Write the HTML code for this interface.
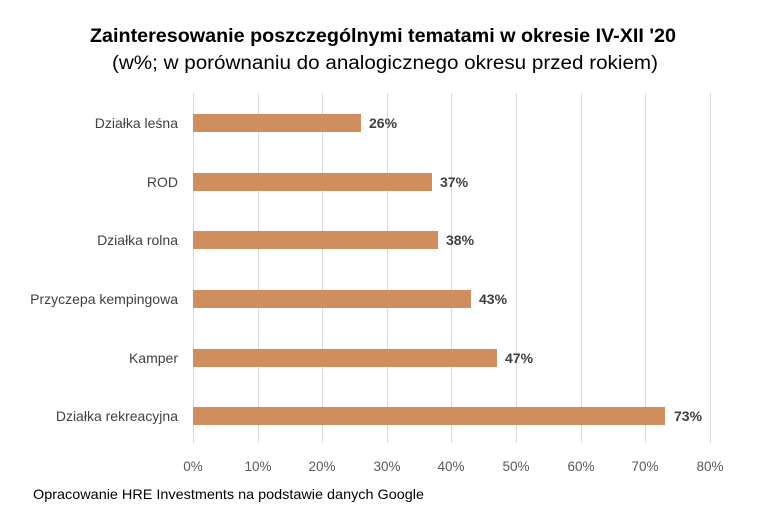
<!DOCTYPE html>
<html><head><meta charset="utf-8"><style>
body{margin:0;background:#fff;}
svg{display:block;font-family:"Liberation Sans",sans-serif;}
</style></head><body>
<svg width="770" height="509" viewBox="0 0 770 509">
<rect width="770" height="509" fill="#fff"/>
<text x="383" y="42" text-anchor="middle" font-size="19.5" font-weight="bold" fill="#000" textLength="586" lengthAdjust="spacingAndGlyphs">Zainteresowanie poszczególnymi tematami w okresie IV-XII '20</text>
<text x="385" y="69" text-anchor="middle" font-size="19" fill="#000" textLength="546" lengthAdjust="spacingAndGlyphs">(w%; w porównaniu do analogicznego okresu przed rokiem)</text>
<g stroke="#d9d9d9" stroke-width="1">
<line x1="193.5" y1="93" x2="193.5" y2="443"/>
<line x1="258.5" y1="93" x2="258.5" y2="443"/>
<line x1="322.5" y1="93" x2="322.5" y2="443"/>
<line x1="387.5" y1="93" x2="387.5" y2="443"/>
<line x1="451.5" y1="93" x2="451.5" y2="443"/>
<line x1="516.5" y1="93" x2="516.5" y2="443"/>
<line x1="581.5" y1="93" x2="581.5" y2="443"/>
<line x1="645.5" y1="93" x2="645.5" y2="443"/>
<line x1="710.5" y1="93" x2="710.5" y2="443"/>
</g>
<g fill="#D08E5F">
<rect x="193" y="114" width="168" height="18"/>
<rect x="193" y="173" width="239" height="18"/>
<rect x="193" y="231" width="245" height="18"/>
<rect x="193" y="290" width="278" height="18"/>
<rect x="193" y="349" width="304" height="18"/>
<rect x="193" y="407" width="472" height="18"/>
</g>
<g font-size="14" font-weight="bold" fill="#404040">
<text x="369" y="128">26%</text>
<text x="440" y="187">37%</text>
<text x="446" y="245">38%</text>
<text x="479" y="304">43%</text>
<text x="505" y="363">47%</text>
<text x="674" y="421">73%</text>
</g>
<g font-size="14" fill="#404040" text-anchor="end">
<text x="178" y="128">Działka leśna</text>
<text x="178" y="187">ROD</text>
<text x="178" y="245">Działka rolna</text>
<text x="178" y="304">Przyczepa kempingowa</text>
<text x="178" y="363">Kamper</text>
<text x="178" y="421">Działka rekreacyjna</text>
</g>
<g font-size="13.5" fill="#595959" text-anchor="middle">
<text x="193" y="471">0%</text>
<text x="258" y="471">10%</text>
<text x="322" y="471">20%</text>
<text x="387" y="471">30%</text>
<text x="451" y="471">40%</text>
<text x="516" y="471">50%</text>
<text x="581" y="471">60%</text>
<text x="645" y="471">70%</text>
<text x="710" y="471">80%</text>
</g>
<text x="33" y="499" font-size="14" fill="#000" textLength="391" lengthAdjust="spacingAndGlyphs">Opracowanie HRE Investments na podstawie danych Google</text>
</svg>
</body></html>
